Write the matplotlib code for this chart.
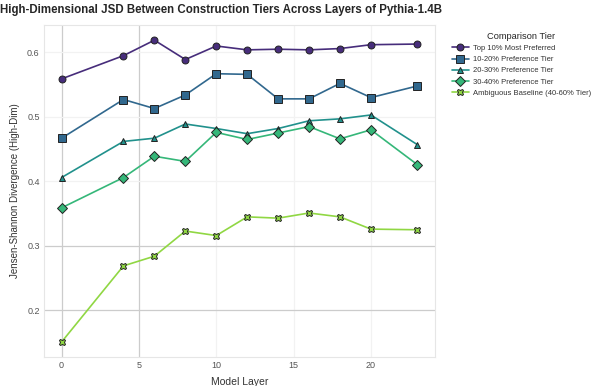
import matplotlib
matplotlib.use("Agg")
import matplotlib.pyplot as plt
import seaborn as sns

layers = [0, 4, 6, 8, 10, 12, 14, 16, 18, 20, 23]
top10 = [0.559, 0.595, 0.619, 0.589, 0.610, 0.604, 0.605, 0.604, 0.606, 0.612, 0.613]
tier_10_20 = [0.467, 0.527, 0.513, 0.534, 0.567, 0.566, 0.528, 0.528, 0.552, 0.530, 0.548]
tier_20_30 = [0.406, 0.462, 0.467, 0.489, 0.482, 0.474, 0.482, 0.494, 0.497, 0.503, 0.457]
tier_30_40 = [0.359, 0.406, 0.439, 0.431, 0.476, 0.465, 0.475, 0.485, 0.466, 0.480, 0.426]
baseline = [0.151, 0.269, 0.284, 0.323, 0.316, 0.345, 0.343, 0.351, 0.345, 0.326, 0.325]

labels = ["Top 10% Most Preferred", "10-20% Preference Tier", "20-30% Preference Tier",
          "30-40% Preference Tier", "Ambiguous Baseline (40-60% Tier)"]
series = [top10, tier_10_20, tier_20_30, tier_30_40, baseline]
colors = ["#472d7b", "#31688e", "#21918c", "#35b779", "#90d743"]
markers = ["o", "s", "^", "D", "X"]
msizes = [5, 6, 5, 5.5, 5]

sns.set_style("whitegrid")
plt.rcParams['font.family'] = ['Liberation Sans', 'DejaVu Sans']

fig = plt.figure(figsize=(5.92, 3.86), dpi=100)
ax = fig.add_axes([0.074, 0.075, 0.661, 0.86])

for vals, lab, c, m, ms in zip(series, labels, colors, markers, msizes):
    ax.plot(layers, vals, color=c, marker=m, markersize=ms, linewidth=1.2,
            markeredgecolor="#222222", markeredgewidth=0.7, label=lab)

ax.set_xticks([0, 5, 10, 15, 20])
ax.set_yticks([0.2, 0.3, 0.4, 0.5, 0.6])
ax.tick_params(labelsize=6.5, colors="#555555", length=0, pad=3)

# grid lines: the left/lower ones stand out, the rest are very faint
for i, gl in enumerate(ax.xaxis.get_gridlines()):
    gl.set_color("#cccccc" if i < 2 else "#f2f2f2")
    gl.set_linewidth(0.9)
for i, gl in enumerate(ax.yaxis.get_gridlines()):
    gl.set_color("#cccccc" if i < 2 else "#f2f2f2")
    gl.set_linewidth(0.9)
for s in ax.spines.values():
    s.set_color("#e6e6e6")

ax.set_xlabel("Model Layer", fontsize=7.5, color="#333333", labelpad=5)
ax.set_ylabel("Jensen-Shannon Divergence (High-Dim)", fontsize=7, color="#333333", labelpad=5)
fig.text(0.0, 0.99, "High-Dimensional JSD Between Construction Tiers Across Layers of Pythia-1.4B",
         fontsize=8.3, fontweight="bold", ha="left", va="top")

leg = ax.legend(title="Comparison Tier", loc="upper left", bbox_to_anchor=(1.025, 1.0),
                fontsize=5.5, title_fontsize=6.7, frameon=False, handlelength=2.2,
                labelspacing=0.5, handletextpad=0.6)
for t in leg.get_texts():
    t.set_color("#333333")

fig.savefig("out.png", dpi=100)
